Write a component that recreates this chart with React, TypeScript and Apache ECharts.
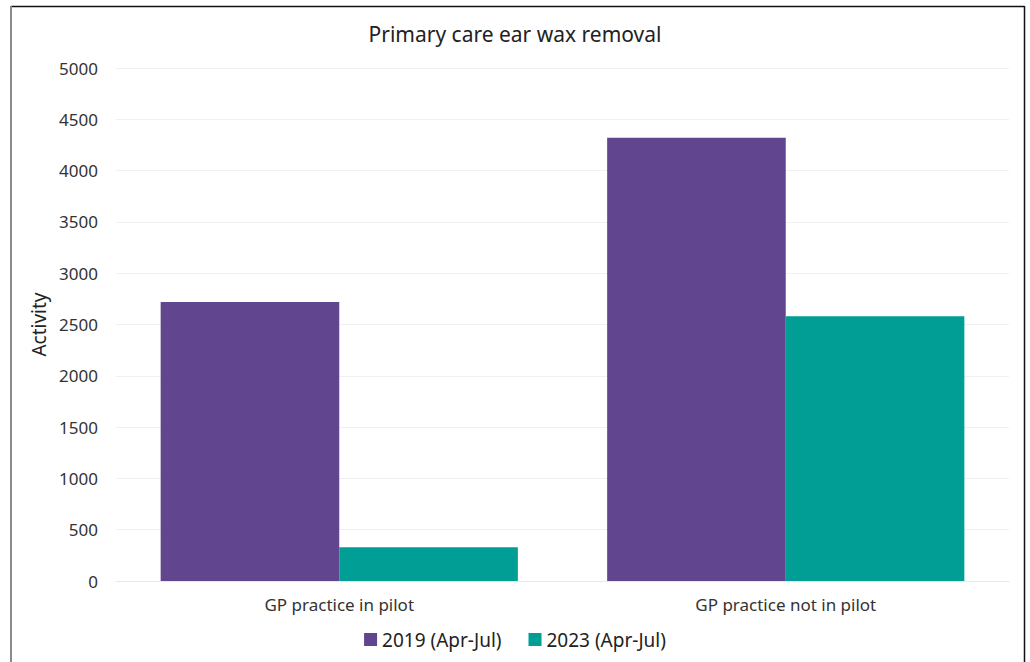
import React, { useEffect, useRef } from "react";
import * as echarts from "echarts";

const categories = ["GP practice in pilot", "GP practice not in pilot"];
const series2019 = [2720, 4320];
const series2023 = [330, 2580];
const seriesNames = ["2019 (Apr-Jul)", "2023 (Apr-Jul)"];
const seriesColors = ["#61458F", "#009E95"];

const FONT = "'Noto Sans', sans-serif";

export default function App() {
  const ref = useRef<HTMLDivElement>(null);

  useEffect(() => {
    if (!ref.current) return;
    const chart = echarts.init(ref.current, undefined, { renderer: "svg" });
    chart.setOption({
      animation: false,
      backgroundColor: "#ffffff",
      textStyle: { fontFamily: FONT },
      title: {
        text: "Primary care ear wax removal",
        left: "center",
        top: 18,
        textStyle: { fontSize: 21, fontWeight: "normal", color: "#222222", fontFamily: FONT },
      },
      legend: {
        bottom: 8,
        left: "center",
        itemWidth: 13,
        itemHeight: 13,
        itemGap: 27,
        icon: "rect",
        textStyle: { fontSize: 19, color: "#222222", fontFamily: FONT },
        data: seriesNames,
      },
      grid: { left: 116, right: 21, top: 68, bottom: 81, containLabel: false },
      xAxis: {
        type: "category",
        data: categories,
        axisTick: { show: false },
        axisLine: { lineStyle: { color: "#E6E9F0", width: 1 } },
        axisLabel: { fontSize: 17, color: "#333333", margin: 15, fontFamily: FONT },
      },
      yAxis: {
        type: "value",
        min: 0,
        max: 5000,
        interval: 500,
        name: "Activity",
        nameLocation: "middle",
        nameGap: 64,
        nameTextStyle: { fontSize: 19, color: "#222222", fontFamily: FONT },
        axisLine: { show: false },
        axisTick: { show: false },
        axisLabel: {
          fontSize: 17,
          color: "#333333",
          margin: 18,
          fontFamily: FONT,
          formatter: (v: number) => String(v),
        },
        splitLine: { lineStyle: { color: "#F0F0F0", width: 1 } },
      },
      series: [
        {
          name: seriesNames[0],
          type: "bar",
          data: series2019,
          itemStyle: { color: seriesColors[0] },
          barWidth: "40%",
          barGap: "0%",
        },
        {
          name: seriesNames[1],
          type: "bar",
          data: series2023,
          itemStyle: { color: seriesColors[1] },
          barWidth: "40%",
          barGap: "0%",
        },
      ],
      graphic: [
        { type: "line", silent: true, shape: { x1: 11, y1: 6.5, x2: 1024.5, y2: 6.5 }, style: { stroke: "#111111", lineWidth: 1.5 } },
        { type: "line", silent: true, shape: { x1: 11, y1: 6, x2: 11, y2: 662 }, style: { stroke: "#8A8A8A", lineWidth: 2 } },
        { type: "line", silent: true, shape: { x1: 1024.5, y1: 6, x2: 1024.5, y2: 662 }, style: { stroke: "#111111", lineWidth: 1.5 } },
      ],
    });
    return () => chart.dispose();
  }, []);

  return (
    <div
      ref={ref}
      style={{ position: "absolute", left: 0, top: 0, width: 1030, height: 662 }}
    />
  );
}
